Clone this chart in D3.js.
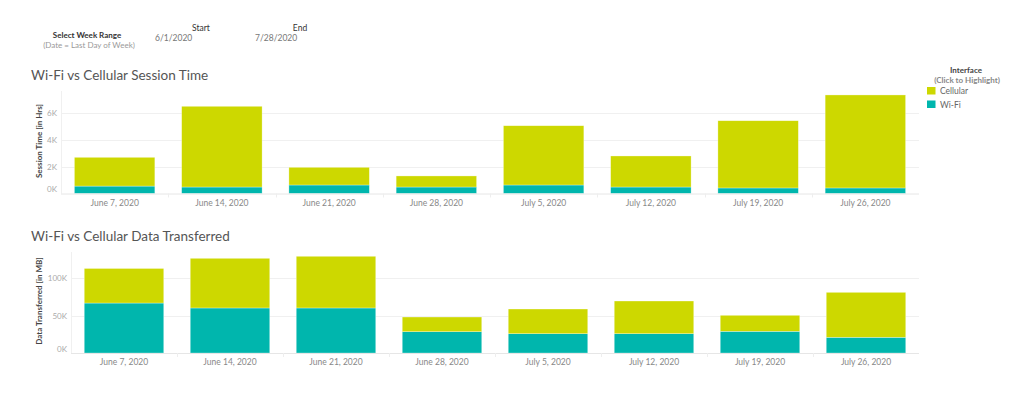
<!DOCTYPE html>
<html><head><meta charset="utf-8">
<script src="https://cdn.jsdelivr.net/npm/d3@7"></script>
<style>
body{margin:0;background:#fff;font-family:Lato,"Open Sans",sans-serif;}
svg text{font-family:Lato,"Open Sans",sans-serif;}
</style></head>
<body>
<svg id="c" width="1024" height="404"></svg>
<script>
const weeks = ["June 7, 2020","June 14, 2020","June 21, 2020","June 28, 2020","July 5, 2020","July 12, 2020","July 19, 2020","July 26, 2020"];
const sessionWifi = [550, 480, 630, 480, 630, 480, 410, 410];
const sessionCell = [2130, 5980, 1310, 820, 4390, 2300, 4980, 6890];
const dataWifi = [66800, 60200, 60200, 28500, 25800, 25800, 29000, 21000];
const dataCell = [46200, 66400, 69100, 19600, 33000, 43700, 21400, 60100];
const sessionTicks = [0, 2000, 4000, 6000];
const dataTicks = [0, 50000, 100000];
const seriesNames = ["Cellular", "Wi-Fi"];
const colors = {"Cellular": "#cdd800", "Wi-Fi": "#00b6ad"};

const svg = d3.select("#c");

// Header
const hdr = svg.append("g");
hdr.append("text").attr("x", 87).attr("y", 38).attr("text-anchor","middle").attr("font-size",8).attr("font-weight","bold").attr("fill","#333").text("Select Week Range");
hdr.append("text").attr("x", 89).attr("y", 48).attr("text-anchor","middle").attr("font-size",8).attr("fill","#999").text("(Date = Last Day of Week)");
hdr.append("text").attr("x", 201).attr("y", 31).attr("text-anchor","middle").attr("font-size",8.5).attr("fill","#333").text("Start");
hdr.append("text").attr("x", 155).attr("y", 41).attr("font-size",8.5).attr("fill","#777").text("6/1/2020");
hdr.append("text").attr("x", 300).attr("y", 31).attr("text-anchor","middle").attr("font-size",8.5).attr("fill","#333").text("End");
hdr.append("text").attr("x", 255).attr("y", 41).attr("font-size",8.5).attr("fill","#777").text("7/28/2020");

// Legend
const lg = svg.append("g");
lg.append("text").attr("x", 966).attr("y", 73).attr("text-anchor","middle").attr("font-size",8).attr("font-weight","bold").attr("fill","#444").text("Interface");
lg.append("text").attr("x", 967).attr("y", 83).attr("text-anchor","middle").attr("font-size",8).attr("font-weight","bold").attr("fill","#888").text("(Click to Highlight)");
seriesNames.forEach((s,i)=>{
  lg.append("rect").attr("x",927).attr("y",87+i*13.5).attr("width",8.5).attr("height",7.5).attr("fill",colors[s]);
  lg.append("text").attr("x",940).attr("y",94+i*13.5).attr("font-size",8.5).attr("fill","#666").text(s);
});

function drawChart(opt){
  const g = svg.append("g");
  g.append("text").attr("x", 31).attr("y", opt.titleY).attr("font-size",13.5).attr("fill","#555").text(opt.title);
  const x = d3.scaleBand().domain(weeks).range([opt.left, 919]).paddingInner(0.25).paddingOuter(0.125);
  const y = d3.scaleLinear().domain(opt.domain).range([opt.bottom, opt.top]);
  // plot frame left line
  g.append("line").attr("x1",opt.left+0.5).attr("x2",opt.left+0.5).attr("y1",opt.top).attr("y2",opt.bottom).attr("stroke","#f0f0f0");
  // gridlines
  g.selectAll(".grid").data(opt.ticks.slice(1)).join("line")
    .attr("x1",opt.left).attr("x2",919).attr("y1",d=>Math.round(y(d))+0.5).attr("y2",d=>Math.round(y(d))+0.5)
    .attr("stroke","#f0f0f0");
  // stacked data
  const rows = weeks.map((w,i)=>({week:w, "Wi-Fi":opt.wifi[i], "Cellular":opt.cell[i]}));
  const stack = d3.stack().keys(["Wi-Fi","Cellular"])(rows);
  g.selectAll(".layer").data(stack).join("g").attr("fill",d=>colors[d.key])
    .selectAll("rect").data(d=>d).join("rect")
    .attr("x",d=>x(d.data.week)).attr("width",x.bandwidth())
    .attr("y",d=>y(d[1])).attr("height",d=>y(d[0])-y(d[1]))
    .attr("stroke","#ffffff").attr("stroke-opacity",0.5).attr("stroke-width",0.6);
  // baseline
  g.append("line").attr("x1",opt.left).attr("x2",919).attr("y1",opt.bottom+0.5).attr("y2",opt.bottom+0.5).attr("stroke","#e6e6e6");
  // band separators
  g.selectAll(".sep").data(weeks.slice(1)).join("line")
    .attr("x1",d=>Math.round(x(d)-x.step()*0.125)+0.5).attr("x2",d=>Math.round(x(d)-x.step()*0.125)+0.5)
    .attr("y1",opt.bottom).attr("y2",opt.bottom+4).attr("stroke","#eeeeee");
  // y axis
  const ya = d3.axisLeft(y).tickValues(opt.ticks).tickFormat(d=>d3.format("d")(d/1000)+"K").tickSize(0).tickPadding(4);
  const yg = g.append("g").attr("transform",`translate(${opt.left},0)`).call(ya);
  yg.select(".domain").remove();
  yg.selectAll("text").attr("font-size",8).attr("fill","#aaa").attr("font-family","Lato, sans-serif")
    .attr("dy", d=> d===0 ? "-0.2em" : "0.32em");
  // x axis
  const xa = d3.axisBottom(x).tickSize(0).tickPadding(6);
  const xg = g.append("g").attr("transform",`translate(0,${opt.bottom})`).call(xa);
  xg.select(".domain").remove();
  xg.selectAll("text").attr("font-size",8.5).attr("fill","#888").attr("font-family","Lato, sans-serif");
  // y title
  g.append("text").attr("transform",`translate(${opt.yTitleX},${opt.yTitleY}) rotate(-90)`)
    .attr("text-anchor","middle").attr("font-size",8).attr("font-weight","bold").attr("fill","#444").text(opt.yTitle);
}

drawChart({title:"Wi-Fi vs Cellular Session Time", titleY:80, left:61, top:91, bottom:193.5,
  domain:[0, (193.5-91)/13.5*1000], ticks:sessionTicks, wifi:sessionWifi, cell:sessionCell,
  yTitle:"Session Time [in Hrs]", yTitleX:42, yTitleY:141});
drawChart({title:"Wi-Fi vs Cellular Data Transferred", titleY:241, left:71, top:252, bottom:353,
  domain:[0, (353-252)/0.748*1000], ticks:dataTicks, wifi:dataWifi, cell:dataCell,
  yTitle:"Data Transferred [in MB]", yTitleX:42, yTitleY:301});
</script>
</body></html>
